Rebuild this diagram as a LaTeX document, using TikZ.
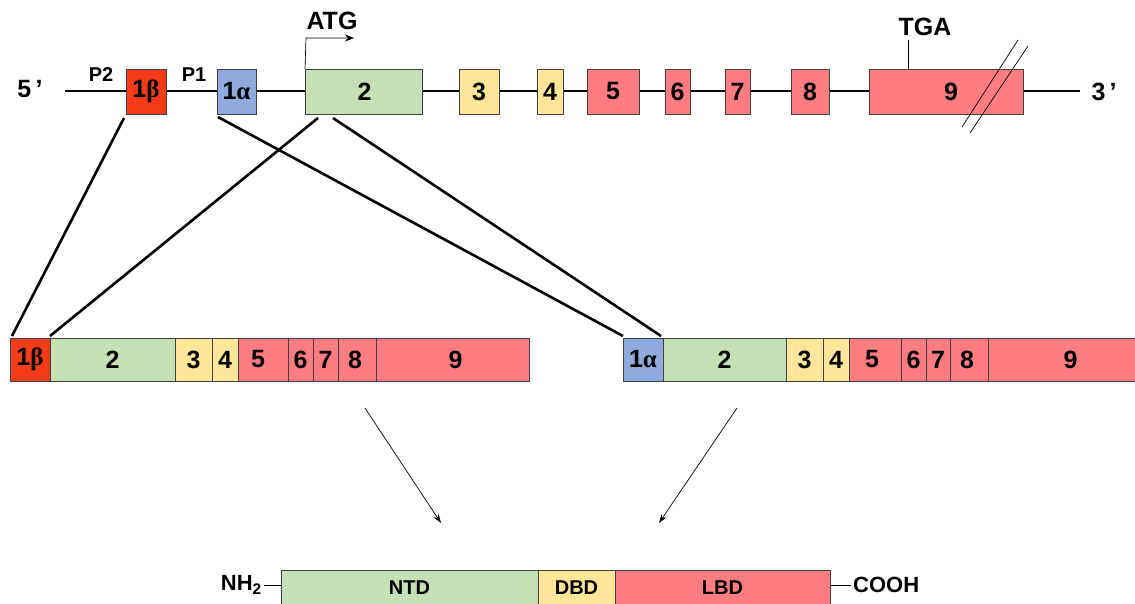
\documentclass[tikz,border=0pt]{standalone}
\usepackage{fontspec}
\setmainfont{Liberation Sans}
\newfontfamily\grk{Liberation Serif}
\usetikzlibrary{arrows.meta,calc}
\definecolor{cgreen}{HTML}{C5E0B4}
\definecolor{cyellow}{HTML}{FFE699}
\definecolor{cpink}{HTML}{FF7C80}
\definecolor{cblue}{HTML}{8FAADC}
\definecolor{corange}{HTML}{F53B17}
\definecolor{cborder}{HTML}{404040}
\begin{document}
\begin{tikzpicture}[x=1pt,y=-1pt,
  exon/.style={draw=cborder,line width=0.9pt,inner sep=0pt,outer sep=0pt,anchor=north west,
    font=\fontsize{25}{25}\selectfont\bfseries},
  lbl/.style={inner sep=0pt,font=\fontsize{25}{25}\selectfont\bfseries},
  small/.style={inner sep=0pt,font=\fontsize{20}{20}\selectfont\bfseries},
  thickline/.style={line width=2.6pt},
  thin/.style={line width=0.7pt},
  dom/.style={draw=cborder,line width=0.9pt,inner sep=0pt,outer sep=0pt,anchor=north west,
    font=\fontsize{20}{20}\selectfont\bfseries}]
\useasboundingbox (0,0) rectangle (1135,603);
% ---------- gene ----------
\coordinate (g5) at (65,91);
\coordinate (g3) at (1080,91);
\draw[thickline] (g5) -- (g3);
\node[lbl] (five) at (30,89) {5\,'};
\node[lbl] (three) at (1104,92) {3\,'};
\node[small] (p2) at (101,75) {P2};
\node[small] (p1) at (194,75) {P1};
\newcommand{\ex}[6]{\node[exon,fill=#5,minimum width=#3pt-#2pt,minimum height=45pt] (#1) at (#2,#4) {#6};}
\ex{t1b}{126}{166}{69}{corange}{1{\grk β}}
\ex{t1a}{217}{256}{69}{cblue}{1{\grk α}}
\ex{t2}{305}{422}{69}{cgreen}{\hspace*{2pt}2}
\ex{t3}{459}{499}{69}{cyellow}{3}
\ex{t4}{537}{563}{69}{cyellow}{4}
\ex{t5}{587}{639}{69}{cpink}{5}
\ex{t6}{665}{690}{69}{cpink}{6}
\ex{t7}{725}{750}{69}{cpink}{7}
\ex{t8}{791}{829}{69}{cpink}{8}
\ex{t9}{869}{1023}{69}{cpink}{\hspace*{10pt}9}
% ATG
\coordinate (atgc) at (306,38);
\coordinate (atge) at (354,38);
\draw[thin,-{Stealth[length=9pt,width=7pt]}] (t2.north west) -- (atgc) -- (atge);
\node[lbl] (atg) at (332,21) {ATG};
% TGA
\coordinate (tgac) at (908,40);
\draw[thin] (tgac) -- (tgac |- t9.north);
\node[lbl] (tga) at (925,27) {TGA};
% break marks
\coordinate (s1a) at (962,127); \coordinate (s1b) at (1018,40);
\coordinate (s2a) at (970,133); \coordinate (s2b) at (1028,46);
\draw[thin] (s1a) -- (s1b);
\draw[thin] (s2a) -- (s2b);
% ---------- transcripts ----------
\newcommand{\mx}[5]{\node[exon,fill=#4,minimum width=#3pt-#2pt,minimum height=43pt] (#1) at (#2,338) {#5};}
\mx{m1b}{10}{50}{corange}{1{\grk β}}
\mx{m2}{50}{175}{cgreen}{2}
\mx{m3}{175}{212}{cyellow}{3}
\mx{m4}{212}{238}{cyellow}{4}
\mx{m5}{238}{288}{cpink}{\hspace*{-10pt}5}
\mx{m6}{288}{313}{cpink}{6}
\mx{m7}{313}{338}{cpink}{7}
\mx{m8}{338}{376}{cpink}{\hspace*{-4pt}8}
\mx{m9}{376}{529}{cpink}{\hspace*{6pt}9}
\mx{n1a}{623}{663}{cblue}{1{\grk α}}
\mx{n2}{663}{786}{cgreen}{2}
\mx{n3}{786}{823}{cyellow}{3}
\mx{n4}{823}{849}{cyellow}{4}
\mx{n5}{849}{901}{cpink}{\hspace*{-6pt}5}
\mx{n6}{901}{926}{cpink}{6}
\mx{n7}{926}{950}{cpink}{7}
\mx{n8}{950}{988}{cpink}{\hspace*{-4pt}8}
\mx{n9}{988}{1135}{cpink}{\hspace*{18pt}9}
% splicing lines
\draw[thickline] ([xshift=-2pt,yshift=-4pt]t1b.south west) -- ([xshift=2pt,yshift=2pt]m1b.north west);
\draw[thickline] ([xshift=13pt,yshift=-4pt]t2.south west) -- ([yshift=2pt]m1b.north east);
\draw[thickline] ([xshift=1pt,yshift=-3pt]t1a.south west) -- ([yshift=2pt]n1a.north west);
\draw[thickline] ([xshift=28pt,yshift=-4pt]t2.south west) -- ([xshift=-2pt,yshift=2pt]n1a.north east);
% arrows to protein
\coordinate (a1s) at (365,408); \coordinate (a1e) at (441,523);
\coordinate (a2s) at (737,408); \coordinate (a2e) at (659,523);
\draw[thin,-{Stealth[length=9pt,width=6pt]}] (a1s) -- (a1e);
\draw[thin,-{Stealth[length=9pt,width=6pt]}] (a2s) -- (a2e);
% ---------- protein ----------
\node[dom,fill=cgreen,minimum width=257pt,minimum height=36pt] (ntd) at (281,570) {NTD};
\node[dom,fill=cyellow,minimum width=77pt,minimum height=36pt] (dbd) at (538,570) {DBD};
\node[dom,fill=cpink,minimum width=215pt,minimum height=36pt] (lbd) at (615,570) {LBD};
\node[small,anchor=east,font=\fontsize{22}{22}\selectfont\bfseries] (nh2) at (262,585) {NH\textsubscript{2}};
\node[small,anchor=west,font=\fontsize{22}{22}\selectfont\bfseries] (cooh) at (853,585) {COOH};
\draw[thin] ([xshift=2pt]nh2.east |- 0,585) -- (ntd.north west |- 0,585);
\draw[thin] (lbd.north east |- 0,585) -- ([xshift=-2pt]cooh.west |- 0,585);
\end{tikzpicture}
\end{document}
